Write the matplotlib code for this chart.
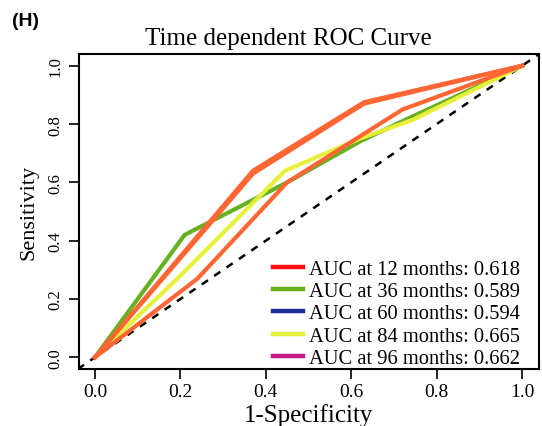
import matplotlib
matplotlib.use('Agg')
import matplotlib.pyplot as plt
from matplotlib.lines import Line2D

plt.rcParams['font.family'] = ['Liberation Serif', 'DejaVu Serif']

# ROC curve points
fpr_12 = [0.0, 0.20, 0.37, 0.63, 1.0]
tpr_12 = [0.0, 0.34, 0.63, 0.87, 1.0]
fpr_36 = [0.0, 0.21, 0.45, 0.62, 0.72, 1.0]
tpr_36 = [0.0, 0.42, 0.60, 0.74, 0.81, 1.0]
fpr_60 = [0.0, 0.37, 0.63, 1.0]
tpr_60 = [0.0, 0.64, 0.875, 1.0]
fpr_84 = [0.0, 0.20, 0.445, 0.62, 0.745, 1.0]
tpr_84 = [0.0, 0.28, 0.64, 0.75, 0.815, 1.0]
fpr_96 = [0.0, 0.24, 0.45, 0.72, 1.0]
tpr_96 = [0.0, 0.27, 0.60, 0.85, 1.0]

labels = ['AUC at 12 months: 0.618', 'AUC at 36 months: 0.589',
          'AUC at 60 months: 0.594', 'AUC at 84 months: 0.665',
          'AUC at 96 months: 0.662']
legend_colors = ['#FF1010', '#66B022', '#1F2F99', '#E6F03A', '#C71A8A']
line_colors = ['#FF6633', '#66B022', '#FF6633', '#E6F03A', '#FF6633']

fig = plt.figure(figsize=(5.42, 4.27), dpi=100)
ax = fig.add_axes([0.146, 0.1335, 0.848, 0.7375])

ax.plot([-0.04, 1.04], [-0.04, 1.04], color='black', lw=1.8, ls=(0, (3, 3)))
curves = [(fpr_36, tpr_36), (fpr_84, tpr_84), (fpr_96, tpr_96), (fpr_12, tpr_12), (fpr_60, tpr_60)]
cols = [line_colors[1], line_colors[3], line_colors[4], line_colors[0], line_colors[2]]
for (fx, ty), c in zip(curves, cols):
    ax.plot(fx, ty, color=c, lw=3, solid_joinstyle='miter')

ax.set_xlim(-0.037, 1.039)
ax.set_ylim(-0.04, 1.04)
ticks = [0.0, 0.2, 0.4, 0.6, 0.8, 1.0]
ax.set_xticks(ticks)
ax.set_yticks(ticks)
ax.set_xticklabels(['%.1f' % t for t in ticks], fontsize=14)
ax.set_yticklabels(['%.1f' % t for t in ticks], fontsize=12, rotation=90, va='center')
ax.tick_params(length=7, width=1.2, color='black')
ax.tick_params(axis='x', pad=3)
ax.tick_params(axis='y', pad=4)
for s in ax.spines.values():
    s.set_linewidth(1.5)

ax.set_xlabel('1-Specificity', fontsize=18, labelpad=2)
ax.set_ylabel('Sensitivity', fontsize=16, labelpad=7)
fig.text(288 / 542, 1 - 39 / 427, 'Time dependent ROC Curve', fontsize=18, ha='center', va='center')
fig.text(0.022, 0.950, '(H)', fontsize=14, fontweight='bold', family='Liberation Sans', va='center')

handles = [Line2D([0], [0], color=c, lw=3.2) for c in legend_colors]
ax.legend(handles, labels, loc='lower right', bbox_to_anchor=(0.987, -0.036),
          frameon=False, fontsize=14.8, handlelength=1.45, handletextpad=0.3,
          labelspacing=0.14, borderaxespad=0.2)

fig.savefig('out.png', dpi=100)
